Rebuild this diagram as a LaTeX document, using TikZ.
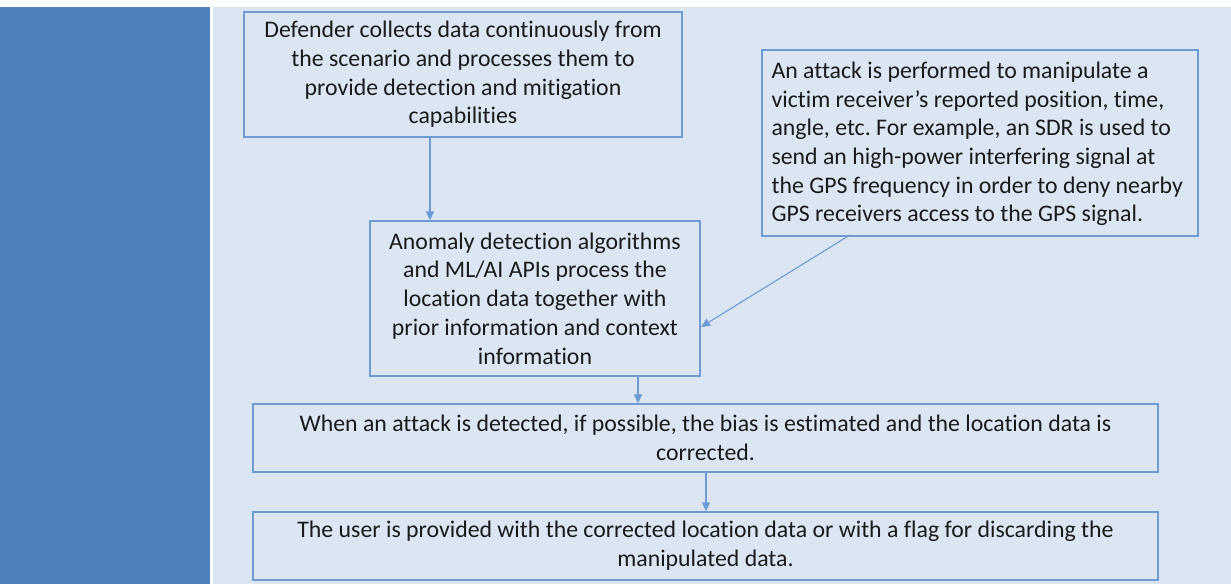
\documentclass[tikz,border=0pt]{standalone}
\usepackage{fontspec}
\setmainfont{Carlito}[Ligatures=NoCommon]
\usetikzlibrary{arrows.meta}
\definecolor{barblue}{HTML}{4F81BD}
\definecolor{bglight}{HTML}{DCE6F2}
\definecolor{edgeblue}{HTML}{6C9BD6}
\definecolor{txt}{HTML}{1A1A1A}
\begin{document}
\frenchspacing
\begin{tikzpicture}[x=1pt,y=1pt,
  box/.style={draw=edgeblue,line width=1.3pt,inner sep=0pt,text=txt,font=\fontsize{23.8}{28.7}\selectfont},
  plaintext/.style={inner sep=0pt,text=txt,font=\fontsize{23.8}{28.7}\selectfont},
  conn/.style={draw=edgeblue,line width=1.1pt,-{Triangle[length=9pt,width=8pt]}}]
\useasboundingbox (0,0) rectangle (1231,584);
\fill[white] (0,0) rectangle (1231,584);
\fill[barblue] (0,0) rectangle (210,577);
\fill[bglight] (213,0) rectangle (1231,577);
% boxes (y = 584 - ypx)
\node[box,minimum width=438pt,minimum height=125pt,align=center] (def) at (463,509.5)
 {Defender collects data continuously from\\the scenario and processes them to\\provide detection and mitigation\\capabilities};
\node[box,minimum width=436pt,minimum height=186pt] (att) at (980,441) {};
\node[plaintext,align=left,anchor=west] (atttext) at ([xshift=10pt,yshift=-1pt]att.west)
 {An attack is performed to manipulate a\\victim receiver’s reported position, time,\\angle, etc. For example, an SDR is used to\\send an high-power interfering signal at\\the GPS frequency in order to deny nearby\\GPS receivers access to the GPS signal.};
\node[box,minimum width=330pt,minimum height=155pt,align=center] (ano) at (535,285.5)
 {Anomaly detection algorithms\\and ML/AI APIs process the\\location data together with\\prior information and context\\information};
\node[box,minimum width=905pt,minimum height=68pt,align=center] (det) at (705.5,146)
 {When an attack is detected, if possible, the bias is estimated and the location data is\\corrected.};
\node[box,minimum width=905pt,minimum height=68pt,align=center] (usr) at (705.5,38)
 {The user is provided with the corrected location data or with a flag for discarding the\\manipulated data.};
% connectors
\draw[conn] (def.south -| 430,0) -- (ano.north -| 430,0);
\coordinate (attsrc) at (850,349);
\coordinate (anotgt) at (701,257);
\draw[conn] (attsrc) -- (anotgt);
\draw[conn] (ano.south -| 638,0) -- (det.north -| 638,0);
\draw[conn] (det.south -| 706,0) -- (usr.north -| 706,0);
\end{tikzpicture}
\end{document}
